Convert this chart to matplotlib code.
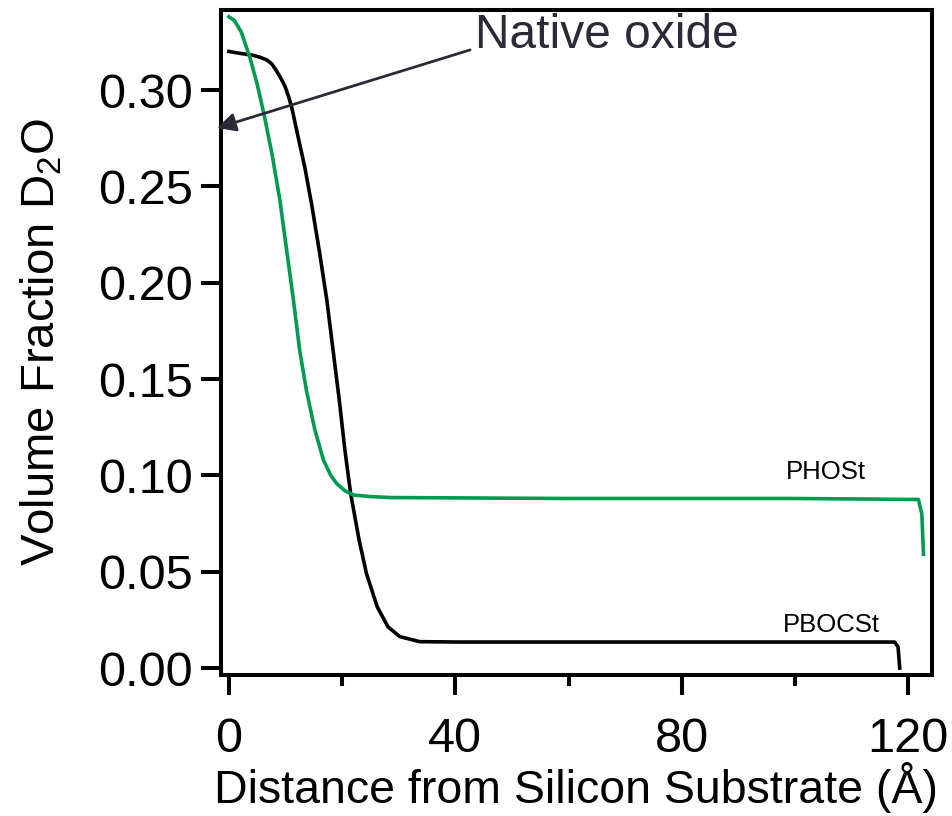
from matplotlib import pyplot as plt
from matplotlib.ticker import MultipleLocator

# font setup, Arial-like look
plt.rcParams['font.family'] = ['Liberation Sans', 'DejaVu Sans']
plt.rcParams['mathtext.fontset'] = 'custom'
plt.rcParams['mathtext.rm'] = 'Liberation Sans'
plt.rcParams['mathtext.it'] = 'Liberation Sans:italic'

# PBOCSt profile (black)
pbocst_x = [0.0, 2.0, 4.3, 5.5, 6.7, 7.6, 8.4, 9.2, 9.9, 10.5, 11.1, 12.2,
            13.4, 14.6, 16.0, 17.3, 18.4, 19.5, 20.5, 21.5, 23.0, 24.3, 26.2,
            28.1, 30.2, 33.7, 40.8, 60.0, 80.0, 100.0, 117.6, 118.2, 118.5]
pbocst_y = [0.320, 0.319, 0.318, 0.317, 0.3156, 0.3135, 0.310, 0.306, 0.302,
            0.297, 0.291, 0.276, 0.260, 0.241, 0.216, 0.191, 0.165, 0.139,
            0.113, 0.0907, 0.0664, 0.0491, 0.0318, 0.0214, 0.0163, 0.0137,
            0.0135, 0.0135, 0.0135, 0.0135, 0.0135, 0.011, 0.0]

# PHOSt profile (green)
phost_x = [0.0, 1.0, 2.2, 3.7, 5.0, 6.3, 7.6, 9.0, 10.2, 11.4, 12.5, 13.7,
           15.2, 16.7, 18.0, 19.0, 20.5, 22.0, 25.0, 28.4, 60.0, 100.0,
           121.8, 122.4, 122.7]
phost_y = [0.338, 0.336, 0.330, 0.317, 0.303, 0.286, 0.267, 0.243, 0.217,
           0.191, 0.165, 0.144, 0.1235, 0.108, 0.100, 0.0959, 0.092, 0.0898,
           0.089, 0.0885, 0.088, 0.088, 0.0875, 0.080, 0.059]

green = '#009a50'
dark = '#2b2b38'

fig = plt.figure(figsize=(9.52, 8.16), dpi=100)
ax = fig.add_axes([0.2321, 0.1728, 0.7469, 0.8149])

ax.plot(pbocst_x, pbocst_y, color='black', lw=2.6, solid_joinstyle='round')
ax.plot(phost_x, phost_y, color=green, lw=2.6, solid_joinstyle='round')

ax.set_xlim(-1.4, 124.2)
ax.set_ylim(-0.0036, 0.3415)

ax.xaxis.set_major_locator(MultipleLocator(40))
ax.xaxis.set_minor_locator(MultipleLocator(20))
ax.yaxis.set_major_locator(MultipleLocator(0.05))
ax.yaxis.set_major_formatter(plt.FormatStrFormatter('%.2f'))

for s in ax.spines.values():
    s.set_linewidth(2.9)

ax.tick_params(axis='both', which='major', direction='out', length=14.4,
               width=2.9, labelsize=35)
ax.tick_params(axis='x', which='major', pad=16)
ax.tick_params(axis='y', which='major', pad=6)
ax.tick_params(axis='x', which='minor', direction='out', length=8, width=2.9)

ax.set_xlabel('Distance from Silicon Substrate (Å)', fontsize=33.5, labelpad=0)
ax.set_ylabel('Volume Fraction D$_2$O', fontsize=34, labelpad=24)

# labels on the curves
ax.text(105.5, 0.1017, 'PHOSt', fontsize=18.5, ha='center', va='center')
ax.text(106.5, 0.0223, 'PBOCSt', fontsize=18.5, ha='center', va='center')

# native oxide arrow
ax.annotate('', xy=(-2.1, 0.2803), xytext=(42.6, 0.3208),
            arrowprops=dict(arrowstyle='-|>', color=dark, lw=2.0,
                            mutation_scale=28, shrinkA=0, shrinkB=0),
            annotation_clip=False)
ax.text(66.8, 0.3285, 'Native oxide', fontsize=34.5, color=dark,
        ha='center', va='center')

fig.savefig('out.png', dpi=100)
